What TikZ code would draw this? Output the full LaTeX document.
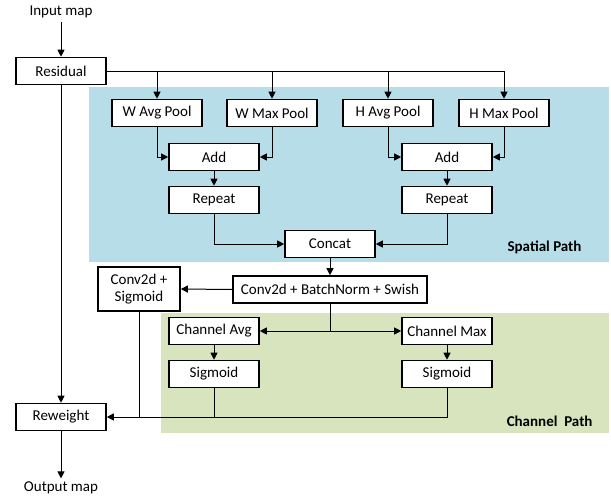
\documentclass[tikz,border=0pt]{standalone}
\usepackage{fontspec}
\setmainfont{Carlito}
\usetikzlibrary{arrows.meta}
\definecolor{spatialbg}{RGB}{183,221,232}
\definecolor{channelbg}{RGB}{215,228,189}
\begin{document}
\begin{tikzpicture}[x=1pt,y=-1pt,
  box/.style={draw=black,line width=1.6pt,fill=white,minimum width=90pt,minimum height=27pt,inner sep=1pt,font=\fontsize{15}{16.5}\selectfont,align=center},
  lbl/.style={font=\fontsize{15}{16.5}\selectfont},
  pathlbl/.style={font=\fontsize{15}{16.5}\selectfont\bfseries,anchor=east},
  conn/.style={line width=1pt},
  arr/.style={conn,-{Triangle[length=7pt,width=7pt]}}]
\useasboundingbox (0,0) rectangle (611,498);
% backgrounds
\fill[spatialbg] (89,87) rectangle (609,262);
\fill[channelbg] (161,313) rectangle (609,433);
\node[pathlbl] (sp) at (585,247) {Spatial Path};
\node[pathlbl] (cp) at (596,421) {Channel\ \ Path};
% nodes
\node[lbl] (in) at (61,12) {Input map};
\node[box] (res) at (61,71) {Residual};
\node[box] (wavg) at (157,113) {W Avg Pool};
\node[box] (wmax) at (272,113) {W Max Pool};
\node[box] (havg) at (388,113) {H Avg Pool};
\node[box] (hmax) at (504,113) {H Max Pool};
\node[box] (addl) at (214,157) {Add};
\node[box] (addr) at (447,157) {Add};
\node[box] (repl) at (214,200) {Repeat};
\node[box] (repr) at (447,200) {Repeat};
\node[box] (cat) at (330,244) {Concat};
\node[box,minimum width=194pt] (cbs) at (330,289.5) {Conv2d + BatchNorm + Swish};
\node[box,minimum width=82pt,minimum height=44pt] (cs) at (139,289) {Conv2d +\\Sigmoid};
\node[box] (cavg) at (214,331) {Channel Avg};
\node[box] (cmax) at (447,331) {Channel Max};
\node[box] (sigl) at (214,374) {Sigmoid};
\node[box] (sigr) at (447,374) {Sigmoid};
\node[box] (rew) at (61,417) {Reweight};
\node[lbl] (out) at (61,488) {Output map};
% connectors
\draw[arr] (in.south) -- (res.north);
\draw[conn] (res.east) -- (hmax.north |- res.east);
\draw[arr] (wavg.north |- res.east) -- (wavg.north);
\draw[arr] (wmax.north |- res.east) -- (wmax.north);
\draw[arr] (havg.north |- res.east) -- (havg.north);
\draw[arr] (hmax.north |- res.east) -- (hmax.north);
\draw[arr] (wavg.south) |- (addl.west);
\draw[arr] (wmax.south) |- (addl.east);
\draw[arr] (havg.south) |- (addr.west);
\draw[arr] (hmax.south) |- (addr.east);
\draw[arr] (addl) -- (repl);
\draw[arr] (addr) -- (repr);
\draw[arr] (repl.south) |- (cat.west);
\draw[arr] (repr.south) |- (cat.east);
\draw[arr] (cat) -- (cbs);
\draw[arr] (cbs.west) -- (cs.east);
\coordinate (split) at (cbs.south |- cavg.east);
\draw[conn] (cbs.south) -- (split);
\draw[arr] (split) -- (cavg.east);
\draw[arr] (split) -- (cmax.west);
\draw[arr] (cavg) -- (sigl);
\draw[arr] (cmax) -- (sigr);
\draw[arr] (sigr.south) |- (rew.east);
\draw[conn] (sigl.south) -- (sigl.south |- rew.east);
\draw[conn] (cs.south) -- (cs.south |- rew.east);
\draw[arr] (res.south) -- (rew.north);
\draw[arr] (rew.south) -- (out.north);
\end{tikzpicture}
\end{document}
